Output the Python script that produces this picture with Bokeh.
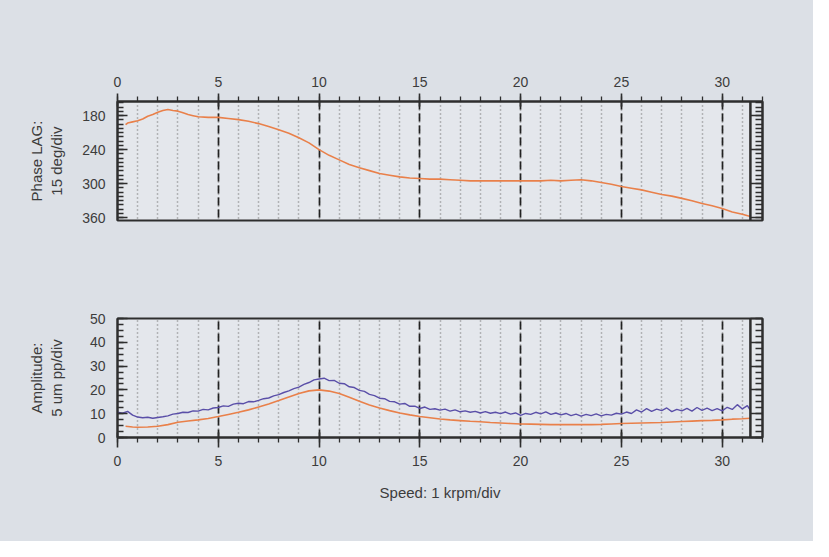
from bokeh.plotting import figure
from bokeh.models import (Range1d, LinearAxis, SingleIntervalTicker, FixedTicker,
                          Span, CustomJSTickFormatter)
from bokeh.layouts import column
from bokeh.embed import file_html
from bokeh.resources import INLINE

# ---------------- data ----------------
speed_phase = [0.4, 0.5, 0.75, 1.0, 1.25, 1.5, 1.75, 2.0, 2.25, 2.5, 2.75, 3.0, 3.25, 3.5, 3.75,
               4.0, 4.5, 5.0, 5.5, 6.0, 6.5, 7.0, 7.5, 8.0, 8.5, 9.0, 9.5, 10.0, 10.5, 11.0,
               11.5, 12.0, 12.5, 13.0, 13.5, 14.0, 14.5, 15.0, 15.5, 16.0, 16.5, 17.0, 17.5,
               18.0, 18.5, 19.0, 19.5, 20.0, 20.5, 21.0, 21.5, 22.0, 22.5, 23.0, 23.5, 24.0,
               24.5, 25.0, 25.5, 26.0, 26.5, 27.0, 27.5, 28.0, 28.5, 29.0, 29.5, 30.0, 30.5,
               31.0, 31.4]
phase_lag = [196, 193, 191, 189, 186, 181, 178, 174, 171, 169, 171, 172, 175, 178, 180,
             182, 183, 183, 185, 187, 190, 194, 199, 205, 211, 219, 228, 240, 250, 258,
             266, 272, 277, 282, 285, 288, 290, 291, 292, 292, 293, 294, 295,
             295, 295, 295, 295, 295, 295, 295, 294, 295, 294, 293, 295, 298,
             301, 305, 308, 311, 315, 319, 322, 326, 330, 335, 339, 344, 350,
             354, 358]

speed_total = [0.0, 0.25, 0.5, 0.75, 1.0, 1.25, 1.5, 1.75, 2.0, 2.25, 2.5, 2.75, 3.0, 3.25, 3.5,
               3.75, 4.0, 4.25, 4.5, 4.75, 5.0, 5.25, 5.5, 5.75, 6.0, 6.25, 6.5, 6.75, 7.0,
               7.25, 7.5, 7.75, 8.0, 8.25, 8.5, 8.75, 9.0, 9.25, 9.5, 9.75, 10.0, 10.25, 10.5,
               10.75, 11.0, 11.25, 11.5, 11.75, 12.0, 12.25, 12.5, 12.75, 13.0, 13.25, 13.5,
               13.75, 14.0, 14.25, 14.5, 14.75, 15.0, 15.25, 15.5, 15.75, 16.0, 16.25, 16.5,
               16.75, 17.0, 17.25, 17.5, 17.75, 18.0, 18.25, 18.5, 18.75, 19.0, 19.25, 19.5,
               19.75, 20.0, 20.25, 20.5, 20.75, 21.0, 21.25, 21.5, 21.75, 22.0, 22.25, 22.5,
               22.75, 23.0, 23.25, 23.5, 23.75, 24.0, 24.25, 24.5, 24.75, 25.0, 25.25, 25.5,
               25.75, 26.0, 26.25, 26.5, 26.75, 27.0, 27.25, 27.5, 27.75, 28.0, 28.25, 28.5,
               28.75, 29.0, 29.25, 29.5, 29.75, 30.0, 30.25, 30.5, 30.75, 31.0, 31.25, 31.4]
amp_total = [10.6, 10.2, 11.0, 9.4, 8.6, 8.3, 8.5, 8.1, 8.4, 8.7, 9.1, 9.8, 10.1, 10.6, 10.5,
             11.2, 11.1, 11.8, 11.6, 12.4, 12.6, 13.3, 13.1, 14.0, 14.4, 14.2, 15.1, 15.0, 15.6,
             16.3, 16.6, 17.5, 18.0, 18.9, 19.6, 20.5, 21.2, 22.3, 23.1, 24.2, 24.6, 24.9, 23.9,
             24.0, 22.8, 22.6, 21.3, 21.0, 19.8, 19.4, 18.1, 17.6, 16.5, 16.3, 15.2,
             15.0, 14.0, 14.3, 13.1, 13.2, 12.2, 12.8, 11.8, 12.1, 11.5, 11.9, 11.1,
             11.6, 10.8, 11.2, 10.6, 11.0, 10.3, 10.9, 10.2, 10.6, 10.0, 10.7, 9.8,
             10.3, 9.3, 10.1, 9.7, 10.6, 9.9, 10.8, 9.7, 10.3, 9.5, 10.1, 9.2,
             9.8, 9.0, 9.7, 9.2, 9.9, 9.1, 9.7, 9.4, 10.2, 9.8, 10.7, 10.1,
             11.6, 10.7, 12.1, 11.0, 11.9, 11.3, 12.4, 10.9, 11.8, 11.2, 12.2, 11.1,
             12.6, 11.4, 12.3, 11.3, 12.1, 11.2, 12.7, 11.8, 13.8, 12.0, 13.4, 11.4]

speed_1x = [0.4, 0.75, 1.0, 1.5, 2.0, 2.5, 3.0, 3.5, 4.0, 4.5, 5.0, 5.5, 6.0, 6.5, 7.0, 7.5,
            8.0, 8.5, 9.0, 9.5, 10.0, 10.5, 11.0, 11.5, 12.0, 12.5, 13.0, 13.5, 14.0, 14.5,
            15.0, 15.5, 16.0, 16.5, 17.0, 17.5, 18.0, 18.5, 19.0, 19.5, 20.0, 20.5, 21.0,
            21.5, 22.0, 22.5, 23.0, 23.5, 24.0, 24.5, 25.0, 25.5, 26.0, 26.5, 27.0, 27.5,
            28.0, 28.5, 29.0, 29.5, 30.0, 30.5, 31.0, 31.4]
amp_1x = [4.7, 4.4, 4.3, 4.4, 4.7, 5.4, 6.4, 6.9, 7.4, 8.0, 8.8, 9.7, 10.6, 11.6, 12.8, 14.1,
          15.5, 17.0, 18.5, 19.6, 20.0, 19.5, 18.5, 16.9, 15.2, 13.7, 12.4, 11.3, 10.3, 9.5,
          8.8, 8.3, 7.8, 7.4, 7.1, 6.8, 6.6, 6.3, 6.1, 5.9, 5.7, 5.6, 5.5,
          5.4, 5.4, 5.4, 5.4, 5.4, 5.5, 5.7, 5.9, 6.0, 6.1, 6.2, 6.3, 6.5,
          6.7, 6.9, 7.1, 7.2, 7.4, 7.7, 7.9, 8.1]

phase_ticks = [180, 240, 300, 360]
amp_ticks = [0, 10, 20, 30, 40, 50]
run_end = 31.4

# ---------------- style ----------------
BG = "#dce0e6"
FRAME_BG = "#e4e7ec"
INK = "#2e2e2e"
TXT = "#3c3c3c"
ORANGE = "#e9804a"
BLUE = "#5a4fa8"
FONT = "Liberation Sans"
W = 813


def x_ticker():
    return SingleIntervalTicker(interval=5, num_minor_ticks=5)


def base_style(p):
    p.background_fill_color = FRAME_BG
    p.border_fill_color = BG
    p.outline_line_color = INK
    p.outline_line_width = 2
    p.ygrid.visible = False
    p.xgrid.grid_line_color = "#222222"
    p.xgrid.grid_line_dash = "8 4"
    p.xgrid.grid_line_width = 1.7
    p.xgrid.minor_grid_line_color = "#7e7e7e"
    p.xgrid.minor_grid_line_dash = "1 3"
    p.xgrid.minor_grid_line_width = 1.5


def style_axis(ax, tick_in, tick_out, minor_in, minor_out):
    ax.axis_line_color = INK
    ax.axis_line_width = 2
    ax.major_tick_line_color = INK
    ax.major_tick_line_width = 1.6
    ax.minor_tick_line_color = INK
    ax.minor_tick_line_width = 1.3
    ax.major_tick_in = tick_in
    ax.major_tick_out = tick_out
    ax.minor_tick_in = minor_in
    ax.minor_tick_out = minor_out
    ax.major_label_text_font = FONT
    ax.major_label_text_font_size = "14px"
    ax.major_label_text_color = TXT
    ax.axis_label_text_font = FONT
    ax.axis_label_text_font_size = "15px"
    ax.axis_label_text_font_style = "normal"
    ax.axis_label_text_color = TXT


def right_axis(p, ticker):
    ra = LinearAxis(ticker=ticker, formatter=CustomJSTickFormatter(code="return ''"))
    style_axis(ra, 12, 0, 7, 0)
    ra.major_label_text_font_size = "1px"
    p.add_layout(ra, "right")


# ---------------- top: phase ----------------
p1 = figure(width=W, height=269, x_range=Range1d(0, 32), y_range=Range1d(365, 155),
            x_axis_location="above", output_backend="svg", toolbar_location=None,
            min_border_top=101, min_border_bottom=49, min_border_left=117, min_border_right=51)
base_style(p1)
xt1 = x_ticker()
p1.xaxis.ticker = xt1
p1.xgrid.ticker = xt1
style_axis(p1.xaxis[0], 5, 8, 0, 5)
p1.xaxis.major_label_standoff = 7

yt1 = FixedTicker(ticks=phase_ticks, minor_ticks=[150 + 7.5 * i for i in range(30)])
p1.yaxis.ticker = yt1
style_axis(p1.yaxis[0], 10, 0, 6, 0)
p1.yaxis.major_label_standoff = 12
p1.yaxis.axis_label = "Phase LAG:\n15 deg/div"
p1.yaxis.axis_label_standoff = 14
right_axis(p1, yt1)

p1.line(speed_phase, phase_lag, line_color=ORANGE, line_width=1.6)
p1.add_layout(Span(location=run_end, dimension="height", line_color=INK, line_width=2.5))

# ---------------- bottom: amplitude ----------------
p2 = figure(width=W, height=272, x_range=Range1d(0, 32), y_range=Range1d(0, 50),
            output_backend="svg", toolbar_location=None,
            min_border_top=49, min_border_bottom=104, min_border_left=117, min_border_right=51)
base_style(p2)
xt2 = x_ticker()
p2.xaxis.ticker = xt2
p2.xgrid.ticker = xt2
style_axis(p2.xaxis[0], 5, 10, 0, 5)
p2.xaxis.major_label_standoff = 8
p2.xaxis.axis_label = "Speed: 1 krpm/div"
p2.xaxis.axis_label_standoff = 15

yt2 = FixedTicker(ticks=amp_ticks, minor_ticks=[2.5 * i for i in range(21)])
p2.yaxis.ticker = yt2
style_axis(p2.yaxis[0], 10, 0, 6, 0)
p2.yaxis.major_label_standoff = 12
p2.yaxis.axis_label = "Amplitude:\n5 um pp/div"
p2.yaxis.axis_label_standoff = 22
right_axis(p2, yt2)

p2.line(speed_total, amp_total, line_color=BLUE, line_width=1.4)
p2.line(speed_1x, amp_1x, line_color=ORANGE, line_width=1.6)
p2.add_layout(Span(location=run_end, dimension="height", line_color=INK, line_width=2.5))

layout = column(p1, p2, spacing=0, styles={"background-color": BG})
open("out.html", "w").write(file_html(layout, INLINE))
